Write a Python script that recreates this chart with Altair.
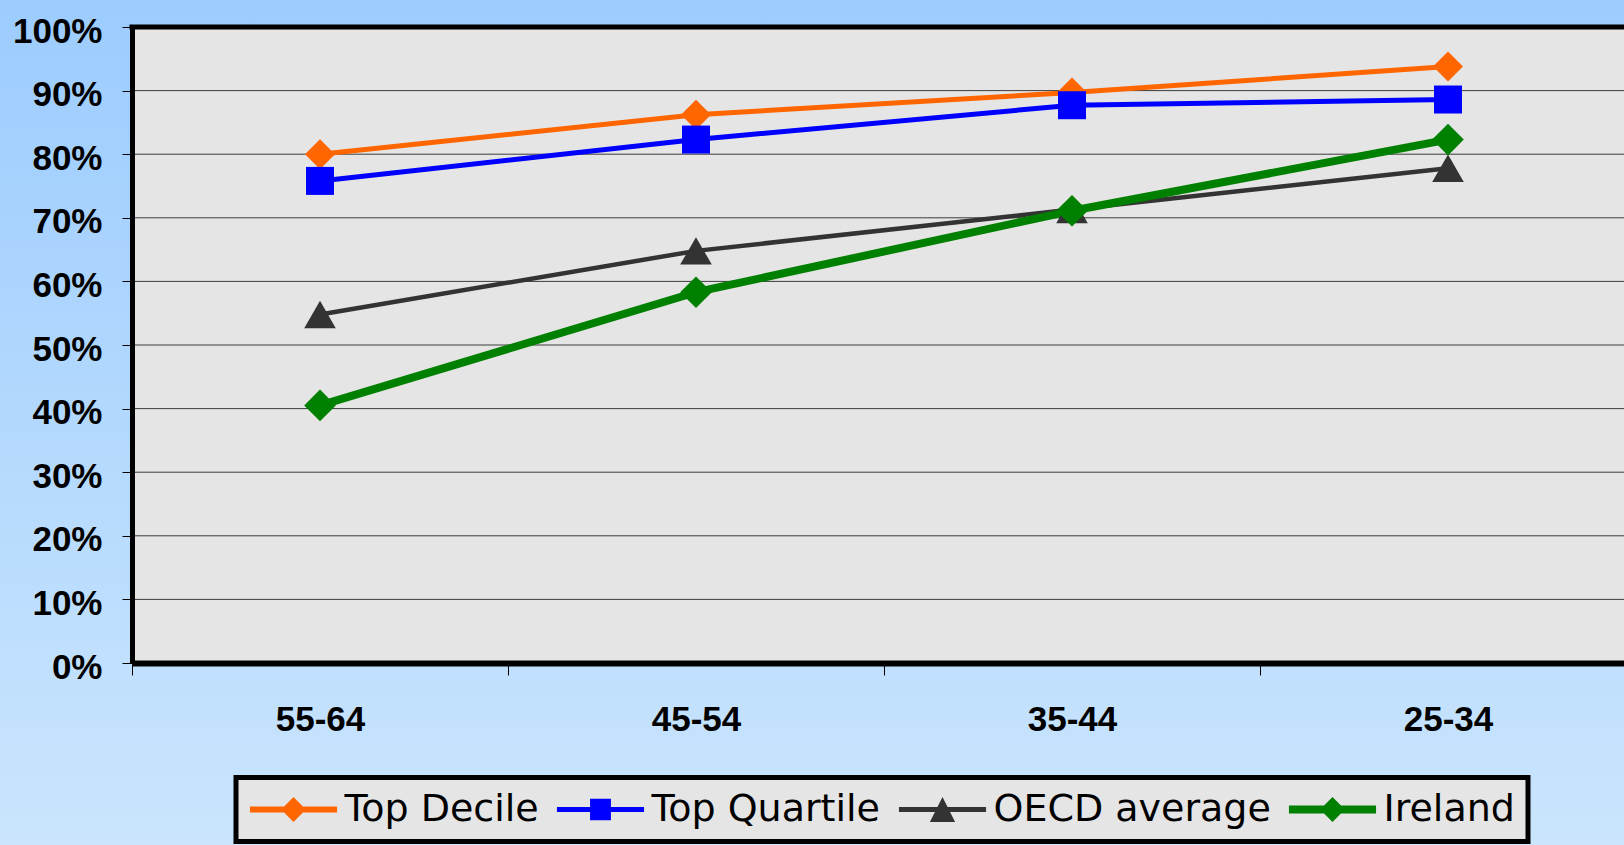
import altair as alt
import pandas as pd

# Age groups (oldest to youngest) and the share reaching the level, per series
ages = ["55-64", "45-54", "35-44", "25-34"]
series_names = ["Top Decile", "Top Quartile", "OECD average", "Ireland"]
top_decile = [0.80, 0.862, 0.897, 0.938]
top_quartile = [0.758, 0.823, 0.877, 0.886]
oecd_average = [0.548, 0.648, 0.713, 0.778]
ireland = [0.405, 0.583, 0.711, 0.823]
y_ticks = [0.0, 0.1, 0.2, 0.3, 0.4, 0.5, 0.6, 0.7, 0.8, 0.9, 1.0]

# Styling per series
colors = ["#FF6600", "#0000FF", "#333333", "#008000"]
shapes = ["diamond", "square", "triangle-up", "diamond"]
marker_sizes = [900, 784, 1000, 1000]
line_widths = [5, 5, 4.5, 8]

# Legend glyphs: a short line segment with the series marker on it
legend_paths = [
    "M-2.42,-0.17L2.42,-0.17L2.42,0.17L-2.42,0.17Z M0,-0.69L0.69,0L0,0.69L-0.69,0Z",
    "M-2.42,-0.14L2.42,-0.14L2.42,0.14L-2.42,0.14Z M-0.58,-0.6L0.58,-0.6L0.58,0.6L-0.58,0.6Z",
    "M-2.42,-0.14L2.42,-0.14L2.42,0.14L-2.42,0.14Z M0,-0.7L0.7,0.7L-0.7,0.7Z",
    "M-2.42,-0.22L2.42,-0.22L2.42,0.22L-2.42,0.22Z M0,-0.69L0.69,0L0,0.69L-0.69,0Z",
]

values = [top_decile, top_quartile, oecd_average, ireland]
rows = []
for name, vals in zip(series_names, values):
    for age, v in zip(ages, vals):
        rows.append({"series": name, "age": age, "value": v})
df = pd.DataFrame(rows)

W, H = 1492, 636
PAD = {"left": 132, "top": 27, "right": 0, "bottom": 182}

x_axis = alt.Axis(
    title=None, labelAngle=0, labelFont="Liberation Sans", labelFontWeight="bold",
    labelFontSize=35, labelColor="black", labelPadding=27, tickBand="extent",
    tickSize=12, tickColor="black", tickWidth=1, domainColor="black",
    domainWidth=6, grid=False, zindex=1,
)
y_axis = alt.Axis(
    title=None, values=y_ticks, format=".0%", labelFont="Liberation Sans",
    labelFontWeight="bold", labelFontSize=35, labelColor="black",
    labelPadding=20, labelOffset=4, tickSize=10, tickColor="black", tickWidth=1,
    domainColor="black", domainWidth=5, grid=False, zindex=1,
)
x_scale = alt.Scale(type="band", domain=ages, range=[0, 1504], paddingInner=0, paddingOuter=0)
y_scale = alt.Scale(domain=[0, 1])

x_enc = alt.X("age:N", sort=ages, scale=x_scale, axis=x_axis, bandPosition=0.5)
y_enc = alt.Y("value:Q", scale=y_scale, axis=y_axis)

one_row = pd.DataFrame({"k": [0]})

# Page background: soft blue vertical gradient
background = alt.Chart(one_row).mark_rect(
    color=alt.Gradient(
        gradient="linear",
        stops=[alt.GradientStop(color="#9CCCFE", offset=0),
               alt.GradientStop(color="#CAE5FD", offset=1)],
        x1=0, x2=0, y1=0, y2=1,
    )
).encode(
    x=alt.value(-PAD["left"]), x2=alt.value(W),
    y=alt.value(-PAD["top"]), y2=alt.value(H + PAD["bottom"]),
)

# Plot area fill
plot_fill = alt.Chart(one_row).mark_rect(color="#E5E5E5").encode(
    x=alt.value(0), x2=alt.value(W), y=alt.value(0), y2=alt.value(H)
)

grid = alt.Chart(pd.DataFrame({"value": y_ticks[1:-1]})).mark_rule(
    color="#3C3C3C", strokeWidth=1
).encode(y=y_enc)

top_border = alt.Chart(pd.DataFrame({"value": [1.0]})).mark_rule(
    color="black", strokeWidth=5, strokeCap="square"
).encode(y=y_enc)

layers = [background, plot_fill, grid, top_border]

for name, c, w in zip(series_names, colors, line_widths):
    layers.append(
        alt.Chart(df[df["series"] == name]).mark_line(
            color=c, strokeWidth=w, strokeJoin="round"
        ).encode(x=x_enc, y=y_enc)
    )

for name, c, sh, sz in zip(series_names, colors, shapes, marker_sizes):
    layers.append(
        alt.Chart(df[df["series"] == name]).mark_point(
            shape=sh, size=sz, filled=True, color=c, opacity=1, strokeWidth=0
        ).encode(x=x_enc, y=y_enc)
    )

# Legend carrier: its marks sit outside the clipped view, only the legend shows
legend_layer = alt.Chart(df).mark_point(
    filled=True, opacity=1, size=1296, strokeWidth=0, clip=True
).encode(
    x=x_enc,
    y=alt.value(H + 400),
    color=alt.Color("series:N", scale=alt.Scale(domain=series_names, range=colors),
                    legend=alt.Legend(title=None)),
    shape=alt.Shape("series:N", scale=alt.Scale(domain=series_names, range=legend_paths),
                    legend=alt.Legend(title=None)),
)
layers.append(legend_layer)

chart = alt.layer(*layers).properties(
    width=W, height=H,
    autosize=alt.AutoSizeParams(type="none"),
    padding=PAD,
    background="#B4D9FE",
).configure_view(
    stroke=None
).configure_legend(
    orient="none", legendX=104, legendY=750.5, direction="horizontal", columns=4,
    padding=13, fillColor="#E5E5E5", strokeColor="black", strokeWidth=5,
    labelFont="DejaVu Sans", labelFontSize=38, labelColor="black", labelLimit=500,
    symbolSize=1296, symbolStrokeWidth=0, symbolOffset=25.5, labelOffset=32,
    columnPadding=17, cornerRadius=0,
)

chart.save("out.html", embed_options={"renderer": "svg", "actions": False})
